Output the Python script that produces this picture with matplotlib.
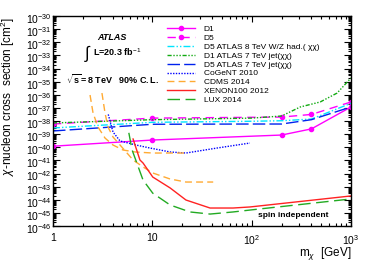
import numpy as np
import matplotlib
matplotlib.use('Agg')
import matplotlib.pyplot as plt
import matplotlib.transforms as mtransforms
from matplotlib.ticker import LogLocator, NullFormatter, FixedLocator, FixedFormatter

plt.rcParams['font.family'] = ['Liberation Sans', 'DejaVu Sans']
plt.rcParams['mathtext.fontset'] = 'custom'
plt.rcParams['mathtext.rm'] = 'Liberation Sans'
plt.rcParams['mathtext.it'] = 'Liberation Sans:italic'
plt.rcParams['mathtext.bf'] = 'Liberation Sans:bold'

# ATLAS limits (mass in GeV, log10 of cross section in cm^2)
m_atlas = [1, 10, 200, 400, 1000]
d1 = [-39.92, -39.45, -39.07, -38.60, -36.93]
d5 = [-38.23, -37.78, -37.70, -37.50, -36.55]

m_8tev = [1, 10, 100, 200, 400, 1000]
d5_8tev = [-38.53, -38.10, -38.02, -37.98, -37.85, -36.65]

m_7tev_d1 = [1, 10, 100, 200, 309, 490, 725, 1000]
d1_7tev = [-38.15, -37.90, -37.78, -37.62, -36.93, -36.55, -35.87, -34.72]

m_7tev_d5 = [1, 10, 100, 200, 400, 1000]
d5_7tev = [-38.76, -38.25, -38.23, -38.23, -37.90, -36.93]

# direct detection
m_cogent = [3.6, 3.75, 4.02, 4.73, 6.85, 9.48, 15.1, 21.8, 44.8, 96]
cogent = [-37.5, -38.0, -38.84, -39.52, -39.83, -40.06, -40.36, -40.44, -40.06, -39.68]

m_cdms_a = [2.36, 2.53, 2.84, 3.34, 4.02, 5.07, 6.7, 10.1, 21.8]
cdms_a = [-36.02, -37.39, -38.46, -39.30, -39.83, -40.21, -40.36, -40.44, -40.44]

m_cdms_b = [3.11, 3.34, 3.58, 4.02, 4.73, 5.56, 6.4, 8.06, 10.1, 15.1, 21.8, 41]
cdms_b = [-35.87, -37.39, -38.46, -39.22, -39.83, -40.44, -40.97, -41.50, -41.96, -42.42, -42.65, -42.65]

m_xenon = [6.4, 7.5, 8.06, 10.1, 15.1, 21.8, 38.1, 65, 96, 1000]
xenon = [-39.37, -40.97, -41.2, -42.27, -43.1, -44.02, -44.63, -44.63, -44.55, -43.71]

m_lux = [5.8, 6.25, 8.06, 10.1, 15.1, 23.9, 38.1, 65, 121, 1000]
lux = [-38.9, -40.2, -42.5, -43.5, -44.4, -44.93, -45.09, -44.93, -44.7, -43.94]

fig = plt.figure(figsize=(3.74, 2.69), dpi=100)
ax = fig.add_axes([53/374, 1-226/269, 298/374, 210/269])

def p(m, v):
    return np.array(m), 10.0**np.array(v)

lw = 1.0
ax.plot(*p(m_atlas, d1), color='#ff00ff', lw=lw, marker='o', ms=3, label='D1')
ax.plot(*p(m_atlas, d5), color='#ff00ff', lw=lw, ls=(0, (6, 4)), marker='o', ms=3, label='D5')
ax.plot(*p(m_8tev, d5_8tev), color='#00e5ff', lw=lw, ls=(0, (5, 1.5, 1, 1.5, 1, 1.5)),
        label='D5 ATLAS 8 TeV W/Z had.( χχ)')
ax.plot(*p(m_7tev_d1, d1_7tev), color='#11aa11', lw=lw, ls=(0, (3, 1.2, 1, 1.2, 1, 1.2, 1, 1.2)),
        label='D1 ATLAS 7 TeV jet(χχ)')
ax.plot(*p(m_7tev_d5, d5_7tev), color='#0022ee', lw=lw, ls=(0, (9, 3)),
        label='D5 ATLAS 7 TeV jet(χχ)')
ax.plot(*p(m_cogent, cogent), color='#0000ff', lw=lw, ls=(0, (1, 1)), label='CoGeNT 2010')
ax.plot(*p(m_cdms_a, cdms_a), color='#ffaa33', lw=lw, ls=(0, (5, 3)), label='CDMS 2014')
ax.plot(*p(m_cdms_b, cdms_b), color='#ffaa33', lw=lw, ls=(0, (5, 3)))
ax.plot(*p(m_xenon, xenon), color='#ff2222', lw=lw, label='XENON100 2012')
ax.plot(*p(m_lux, lux), color='#22aa22', lw=lw, ls=(0, (9, 4)), label='LUX 2014')

ax.set_xscale('log')
ax.set_yscale('log')
ax.set_xlim(1, 1000)
ax.set_ylim(1e-46, 1e-30)

ax.yaxis.set_major_locator(LogLocator(base=10, numticks=30))
ax.yaxis.set_minor_locator(LogLocator(base=10, subs=np.arange(2, 10), numticks=30))
ax.yaxis.set_minor_formatter(NullFormatter())
ax.xaxis.set_major_locator(FixedLocator([1, 10, 100, 1000]))
ax.xaxis.set_major_formatter(FixedFormatter(['1', '10', r'$10^{2}$', r'$10^{3}$']))
ax.xaxis.set_minor_locator(LogLocator(base=10, subs=np.arange(2, 10), numticks=30))
ax.xaxis.set_minor_formatter(NullFormatter())

ax.tick_params(which='both', direction='in', top=True, right=True, labelsize=7.5, width=0.8)
ax.tick_params(axis='y', which='major', length=5)
ax.tick_params(axis='y', which='minor', length=2.5)
ax.tick_params(axis='x', which='major', length=4, pad=5)
ax.tick_params(axis='x', which='minor', length=2)
ax.tick_params(axis='y', pad=1)
for s in ax.spines.values():
    s.set_linewidth(1.0)

# shift y tick labels down a little so the top exponent stays inside the figure
shift = mtransforms.ScaledTranslation(0, -2/100, fig.dpi_scale_trans)
for lab in ax.get_yticklabels():
    lab.set_transform(lab.get_transform() + shift)

leg = ax.legend(loc='upper left', bbox_to_anchor=(0.383, 0.955), frameon=False,
                fontsize=6, handlelength=3.4, handletextpad=1.0, labelspacing=0.12,
                borderpad=0, borderaxespad=0)

ax.text(0.198, 0.9, 'ATLAS', transform=ax.transAxes, ha='center', va='center',
        fontsize=6.5, style='italic', weight='bold')
ax.text(0.118, 0.82, r'$\int$', transform=ax.transAxes, ha='center', va='center', fontsize=12)
ax.text(0.135, 0.828, r'L=20.3 fb$^{-1}$', transform=ax.transAxes, ha='left', va='center',
        fontsize=6.5, weight='bold')
ax.text(0.045, 0.7, r'$\sqrt{\mathbf{s}}\mathbf{=8\ TeV\ \ \ 90\%\ C.L.}$', transform=ax.transAxes,
        ha='left', va='center', fontsize=6.5)
ax.text(0.688, 0.052, 'spin independent', transform=ax.transAxes, ha='left', va='center',
        fontsize=6, weight='bold')

fig.text(0.022, 0.64, r'$\chi$-nucleon cross  section [cm$^{2}$]', rotation=90,
         ha='center', va='center', fontsize=8.5)
fig.text(0.94, 0.056, r'm$_{\chi}$  [GeV]', ha='right', va='center', fontsize=8.5)

fig.savefig('out.png', dpi=100)
